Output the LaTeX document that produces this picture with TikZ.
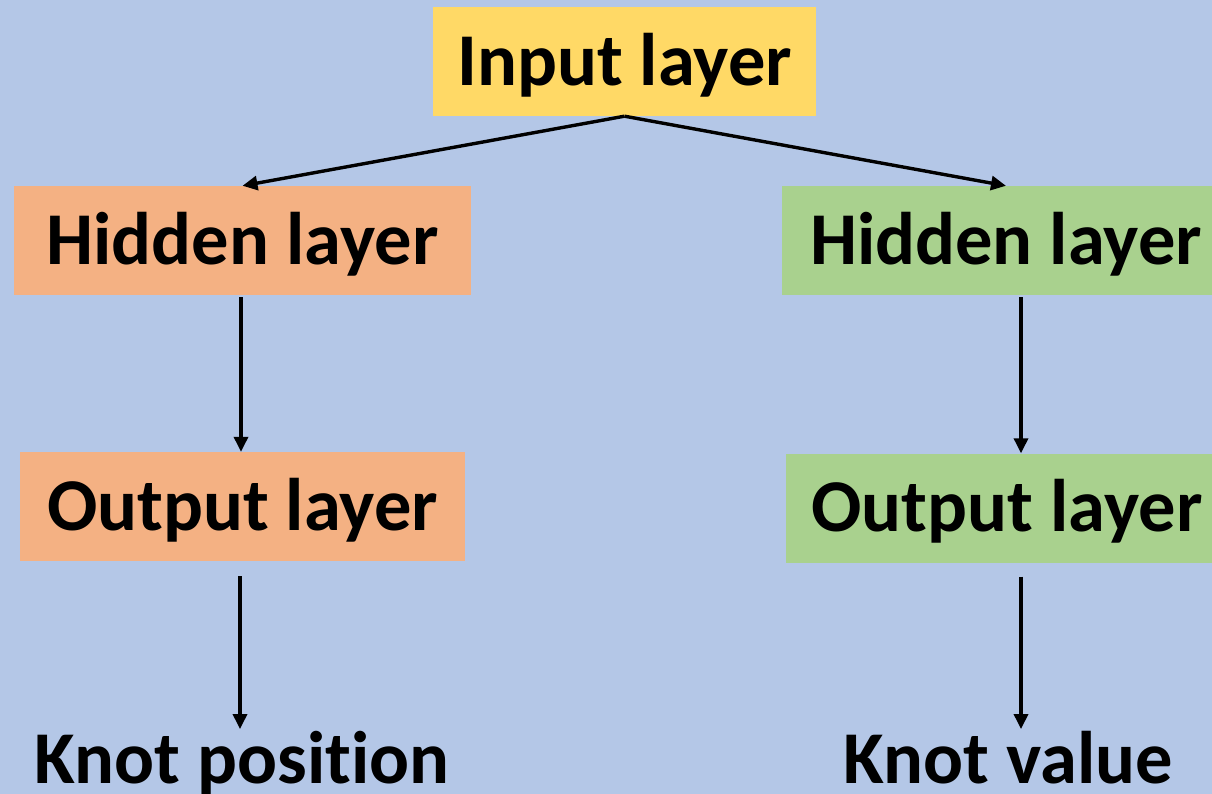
\documentclass[tikz,border=0pt]{standalone}
\usepackage{fontspec}
\setmainfont{Carlito}[Ligatures={NoCommon}]
\usetikzlibrary{arrows.meta}
\definecolor{bgblue}{HTML}{B4C7E7}
\definecolor{inyellow}{HTML}{FFD966}
\definecolor{hidorange}{HTML}{F4B183}
\definecolor{hidgreen}{HTML}{A9D18E}
\tikzset{
  layerbox/.style={minimum height=109pt, inner sep=0pt, text height=47.5pt, text depth=0pt,
    font=\fontsize{74.5pt}{80pt}\selectfont\bfseries},
  outtext/.style={inner xsep=0pt, inner ysep=7pt, text height=47.5pt, text depth=0pt,
    font=\fontsize{74.5pt}{80pt}\selectfont\bfseries},
  conn/.style={line width=3.4pt, -{Triangle[length=15pt,width=14pt]}}
}
\begin{document}
\begin{tikzpicture}[x=1pt,y=1pt]
\fill[bgblue] (0,0) rectangle (1212,-794);
\useasboundingbox (0,0) rectangle (1212,-794);
\node[layerbox, fill=inyellow, minimum width=383pt] (in) at (624.5,-61.5) {Input layer};
\node[layerbox, fill=hidorange, minimum width=457pt] (lh) at (242.5,-240.5) {Hidden layer};
\node[layerbox, fill=hidorange, minimum width=445pt] (lo) at (242.5,-506.5) {Output layer};
\node[layerbox, fill=hidgreen, minimum width=448pt] (rh) at (1006,-240.5) {Hidden layer};
\node[layerbox, fill=hidgreen, minimum width=442pt] (ro) at (1007,-508) {Output layer};
\node[outtext] (kp) at (242,-760) {Knot position};
\node[outtext] (kv) at (1008,-760) {Knot value};
\draw[conn] (in.south) -- (lh.north);
\draw[conn] (in.south) -- (rh.north);
\draw[conn] ([xshift=-1.5pt,yshift=-2pt]lh.south) -- ([xshift=-1.5pt]lo.north);
\draw[conn] ([xshift=15pt,yshift=-2pt]rh.south) -- ([xshift=14pt]ro.north);
\draw[conn] ([xshift=-2.5pt,yshift=-15pt]lo.south) -- ([xshift=-2pt]kp.north);
\draw[conn] ([xshift=14pt,yshift=-14pt]ro.south) -- ([xshift=13pt]kv.north);
\end{tikzpicture}
\end{document}
